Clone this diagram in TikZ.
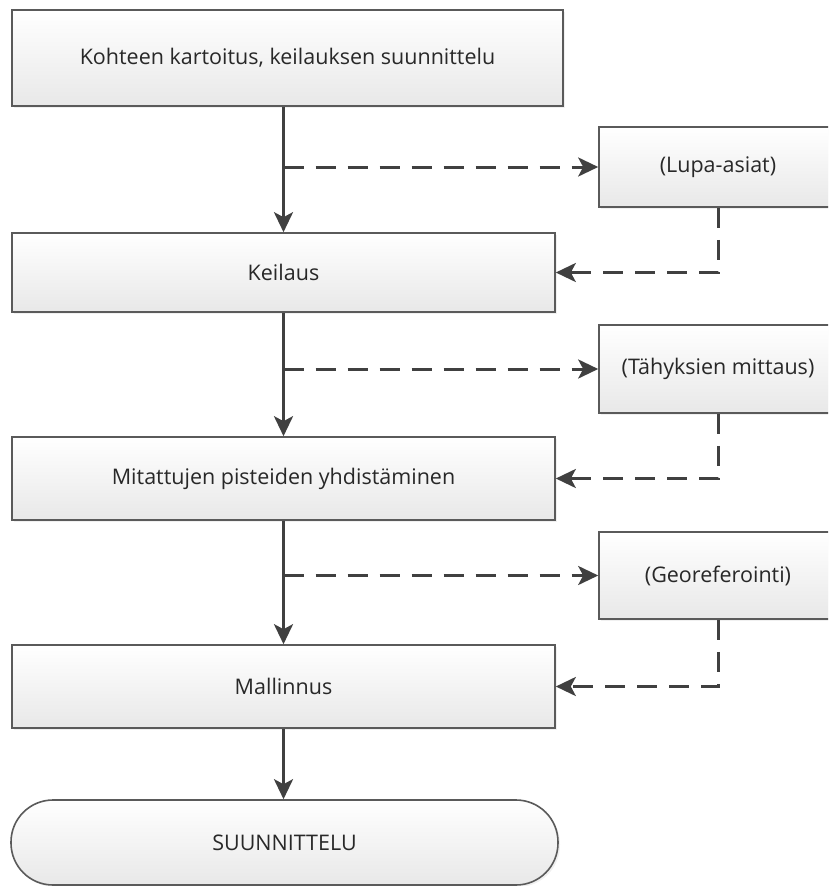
\documentclass[tikz,border=0pt]{standalone}
\usepackage{fontspec}
\setmainfont{Open Sans}
\usetikzlibrary{arrows.meta,shadows}
\definecolor{boxline}{RGB}{90,90,90}
\definecolor{boxfill}{RGB}{232,232,232}
\definecolor{linecol}{RGB}{64,64,64}
\definecolor{textcol}{RGB}{40,40,40}
\tikzset{
  basebox/.style={draw=boxline, line width=1.6pt, top color=white, bottom color=boxfill,
    inner sep=0pt, text=textcol, font=\fontsize{21.5}{25}\selectfont,
    drop shadow={opacity=0.12, shadow xshift=2pt, shadow yshift=-2pt}},
  mainbox/.style={basebox, minimum width=543pt, minimum height=#1},
  sidebox/.style={basebox, minimum width=238pt, minimum height=#1},
  endbox/.style={basebox, rounded corners=42pt, minimum width=547pt, minimum height=85pt},
  flow/.style={draw=linecol, line width=3pt, -{Stealth[length=20pt,width=19pt,inset=5pt]}},
  side/.style={flow, dash pattern=on 20pt off 12pt}
}
\begin{document}
\begin{tikzpicture}[x=1pt,y=-1pt]
\useasboundingbox (0,0) rectangle (828,886);
\clip (0,0) rectangle (828,886);
% main column
\node[mainbox=96pt, minimum width=551pt] (kartoitus) at (287.5,58) {Kohteen kartoitus, keilauksen suunnittelu};
\node[mainbox=79pt] (keilaus) at (283.5,272.5) {Keilaus};
\node[mainbox=83pt] (yhdistaminen) at (283.5,478.5) {Mitattujen pisteiden yhdistäminen};
\node[mainbox=83pt] (mallinnus) at (283.5,686.5) {Mallinnus};
\node[endbox] (suunnittelu) at (284.5,842.5) {SUUNNITTELU};
% side steps
\node[sidebox=80pt] (lupa) at (718,167) {(Lupa-asiat)};
\node[sidebox=88pt] (tahykset) at (718,369) {(Tähyksien mittaus)};
\node[sidebox=87pt] (georef) at (718,575.5) {(Georeferointi)};

\draw[flow] (kartoitus.south -| keilaus.north) -- (keilaus.north);
\draw[flow] (keilaus.south) -- (yhdistaminen.north);
\draw[flow] (yhdistaminen.south) -- (mallinnus.north);
\draw[flow] (mallinnus.south) -- (mallinnus.south |- suunnittelu.north);

\draw[side] (keilaus.north |- lupa.west) -- (lupa.west);
\draw[side] (lupa.south) |- (keilaus.east);
\draw[side] (yhdistaminen.north |- tahykset.west) -- (tahykset.west);
\draw[side] (tahykset.south) |- (yhdistaminen.east);
\draw[side] (mallinnus.north |- georef.west) -- (georef.west);
\draw[side] (georef.south) |- (mallinnus.east);
\end{tikzpicture}
\end{document}
